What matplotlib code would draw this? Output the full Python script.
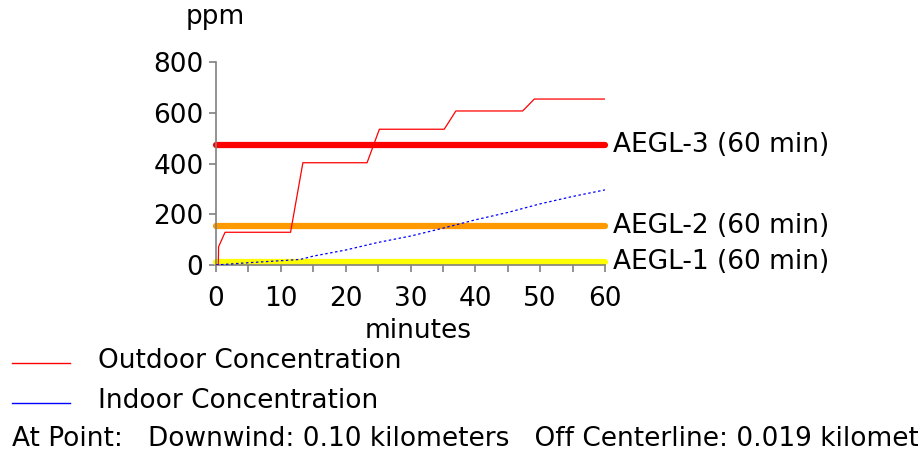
import matplotlib
matplotlib.use("Agg")
import matplotlib.pyplot as plt

# outdoor concentration (ppm) vs minutes
out_t = [0, 0.35, 0.4, 1.4, 11.5, 13.4, 23.3, 25.2, 35.2, 37.0, 47.3, 49.1, 60]
out_c = [0, 0, 72, 129, 129, 403, 403, 535, 535, 607, 607, 654, 654]

# indoor concentration
in_t = [0, 5, 10, 13, 15, 20, 25, 30, 35, 40, 45, 50, 55, 60]
in_c = [0, 9, 17, 22, 35, 59, 89, 114, 145, 178, 207, 241, 270, 296]

aegl_names = ["AEGL-3 (60 min)", "AEGL-2 (60 min)", "AEGL-1 (60 min)"]
aegl_vals = [473, 155, 12]
aegl_cols = ["#ff0000", "#ff9900", "#ffff00"]

fs = 19
plt.rcParams["font.family"] = ["DejaVu Sans"]

fig = plt.figure(figsize=(9.18, 4.54), dpi=100)
ax = fig.add_axes([216/918, 1 - 265/454, (605 - 216)/918, (265 - 62)/454])

for v, c, name in zip(aegl_vals, aegl_cols, aegl_names):
    ax.plot([0, 60], [v, v], color=c, lw=4.5, solid_capstyle="round", clip_on=False, zorder=2)
    ax.text(61.3, v, name, fontsize=fs, va="center", ha="left")

ax.plot(out_t, out_c, color="red", lw=0.9, zorder=3)
ax.plot(in_t, in_c, color="blue", lw=0.9, ls=(0, (2, 2)), zorder=3)

ax.set_xlim(0, 60)
ax.set_ylim(0, 800)
ax.set_xticks(range(0, 61, 10))
ax.set_xticks(range(0, 61, 5), minor=True)
ax.set_yticks(range(0, 801, 200))
ax.tick_params(labelsize=fs, color="#808080", length=5, width=1.2, pad=4)
ax.tick_params(axis="x", pad=10)
ax.tick_params(which="minor", color="#808080", length=5, width=1.2)
for s in ["top", "right"]:
    ax.spines[s].set_visible(False)
for s in ["left", "bottom"]:
    ax.spines[s].set_color("#808080")
    ax.spines[s].set_linewidth(1.2)

fig.text(215/918, 1 - 17/454, "ppm", fontsize=fs, ha="center", va="center")
fig.text(418/918, 1 - 331/454, "minutes", fontsize=fs, ha="center", va="center")

# legend-ish block at the bottom
fig.add_artist(plt.Line2D([12/918, 70/918], [1 - 363/454] * 2, color="red", lw=1))
fig.add_artist(plt.Line2D([12/918, 70/918], [1 - 403/454] * 2, color="blue", lw=1))
fig.text(98/918, 1 - 361/454, "Outdoor Concentration", fontsize=fs, va="center")
fig.text(98/918, 1 - 401/454, "Indoor Concentration", fontsize=fs, va="center")
fig.text(12/918, 1 - 439/454,
         "At Point:   Downwind: 0.10 kilometers   Off Centerline: 0.019 kilometers",
         fontsize=fs, va="center")

fig.savefig("out.png", dpi=100)
